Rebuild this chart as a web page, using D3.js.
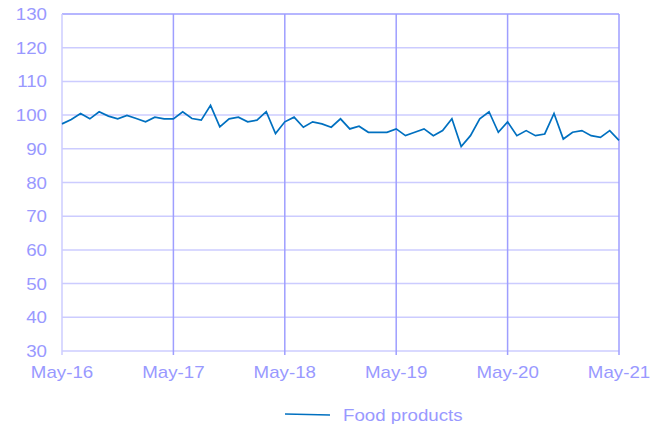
<!DOCTYPE html>
<html>
<head>
<meta charset="utf-8">
<script src="https://cdn.jsdelivr.net/npm/d3@7"></script>
<style>
  body { margin: 0; background: #fff; }
  text { font-family: "Liberation Sans", Arial, sans-serif; }
</style>
</head>
<body>
<script>
// monthly index, May-16 .. May-21
const tickLabels = ['May-16', 'May-17', 'May-18', 'May-19', 'May-20', 'May-21']
const yTicks = [30, 40, 50, 60, 70, 80, 90, 100, 110, 120, 130]
const seriesName = 'Food products'
const food = [
  97.4, 98.7, 100.5, 98.9, 101, 99.7, 98.9, 99.9, 99, 98, 99.4, 98.9, 98.9,
  101, 99, 98.5, 102.9, 96.5, 98.9, 99.4, 98, 98.5, 101, 94.5, 98,
  99.4, 96.4, 98, 97.4, 96.4, 98.9, 95.9, 96.7, 94.9, 94.9, 94.9, 95.9,
  93.9, 94.9, 95.9, 93.9, 95.4, 98.9, 90.7, 93.9, 98.9, 101, 94.9, 98,
  93.9, 95.4, 93.9, 94.4, 100.5, 92.9, 94.9, 95.4, 93.9, 93.4, 95.4, 92.5
]

const W = 664, H = 428
const m = { left: 62, top: 14, right: 45, bottom: 77 }
const pw = W - m.left - m.right
const ph = H - m.top - m.bottom
const sx = 1.17 // text in the original is stretched wide

const svg = d3.select('body').append('svg')
    .attr('width', W)
    .attr('height', H)

const x = d3.scaleLinear().domain([0, food.length - 1]).range([m.left, m.left + pw])
const y = d3.scaleLinear().domain([30, 130]).range([m.top + ph, m.top])

const light = '#ccccff', mid = '#9e9eff', txt = '#9999ff'

// horizontal grid
svg.append('g').selectAll('line')
    .data(yTicks.slice(1))
    .enter().append('line')
    .attr('x1', m.left).attr('x2', m.left + pw)
    .attr('y1', d => y(d)).attr('y2', d => y(d))
    .attr('stroke', d => d === 130 ? mid : light)
    .attr('stroke-width', 1.5)

// left + bottom axis lines
svg.append('line')
    .attr('x1', m.left).attr('x2', m.left)
    .attr('y1', m.top).attr('y2', m.top + ph)
    .attr('stroke', light).attr('stroke-width', 1.5)
svg.append('line')
    .attr('x1', m.left).attr('x2', m.left + pw)
    .attr('y1', m.top + ph).attr('y2', m.top + ph)
    .attr('stroke', light).attr('stroke-width', 1.5)

// vertical grid at yearly ticks
svg.append('g').selectAll('line')
    .data(tickLabels.slice(1))
    .enter().append('line')
    .attr('x1', (d, i) => x((i + 1) * 12)).attr('x2', (d, i) => x((i + 1) * 12))
    .attr('y1', m.top).attr('y2', m.top + ph + 4)
    .attr('stroke', mid)
    .attr('stroke-width', 1.5)
svg.append('line')
    .attr('x1', m.left).attr('x2', m.left)
    .attr('y1', m.top + ph).attr('y2', m.top + ph + 4)
    .attr('stroke', light).attr('stroke-width', 1.5)

// y labels
svg.append('g').selectAll('text')
    .data(yTicks)
    .enter().append('text')
    .attr('transform', d => `translate(47,${y(d) + 6}) scale(${sx},1)`)
    .attr('text-anchor', 'end')
    .attr('font-size', 16)
    .attr('fill', txt)
    .text(d => d)

// x labels
svg.append('g').selectAll('text')
    .data(tickLabels)
    .enter().append('text')
    .attr('transform', (d, i) => `translate(${x(i * 12)},378) scale(${sx},1)`)
    .attr('text-anchor', 'middle')
    .attr('font-size', 16)
    .attr('fill', txt)
    .text(d => d)

// series line
const line = d3.line()
    .x((d, i) => x(i))
    .y(d => y(d))

svg.append('path')
    .datum(food)
    .attr('d', line)
    .attr('fill', 'none')
    .attr('stroke', '#0070c0')
    .attr('stroke-width', 1.7)
    .attr('stroke-linejoin', 'miter')

// legend
svg.append('line')
    .attr('x1', 285).attr('x2', 330)
    .attr('y1', 414).attr('y2', 415)
    .attr('stroke', '#0070c0').attr('stroke-width', 1.5)
svg.append('text')
    .attr('transform', `translate(343,421) scale(${sx},1)`)
    .attr('font-size', 16)
    .attr('fill', txt)
    .text(seriesName)
</script>
</body>
</html>
